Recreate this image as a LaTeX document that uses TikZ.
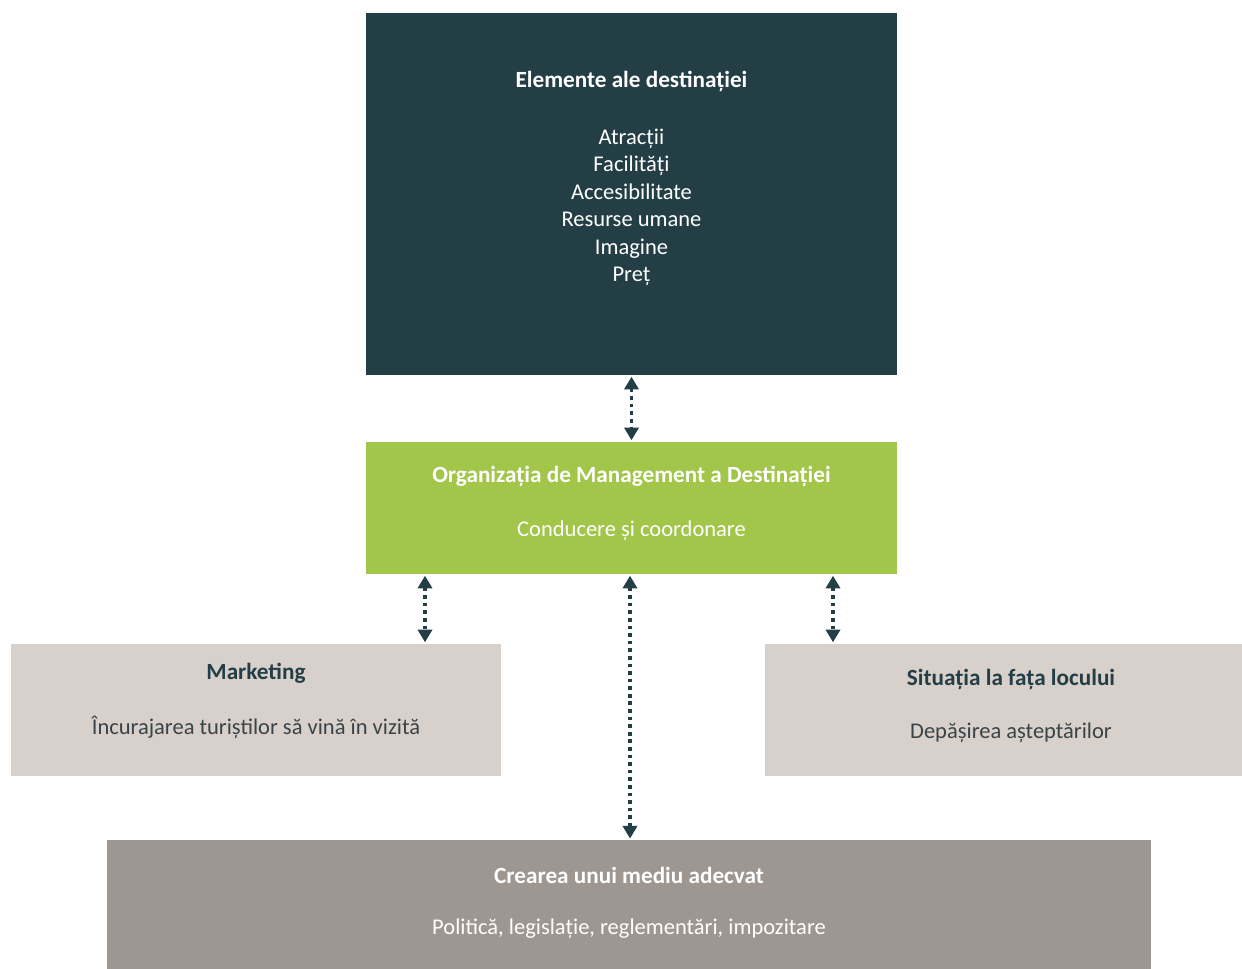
\documentclass[tikz,border=0pt]{standalone}
\usepackage{fontspec}
\setmainfont{Carlito}
\usetikzlibrary{positioning,arrows.meta,calc}

\definecolor{darkteal}{HTML}{233F45}
\definecolor{leafgreen}{HTML}{A1C64A}
\definecolor{lightstone}{HTML}{D7D0CB}
\definecolor{darkstone}{HTML}{9E9690}
\definecolor{softgray}{HTML}{3A4448}

\tikzset{
  box/.style={draw=none, rectangle, inner sep=0pt},
  title/.style={font=\fontsize{16.5}{19}\selectfont\bfseries},
  body/.style={font=\fontsize{16}{19.5}\selectfont, align=center},
  link/.style={darkteal, line width=2.6pt, dash pattern=on 2.6pt off 2.8pt,
    {Triangle[length=9pt,width=10pt]}-{Triangle[length=9pt,width=10pt]}, shorten <=1pt, shorten >=1pt}
}

\begin{document}
\begin{tikzpicture}[x=0.025cm, y=-0.025cm]
    \useasboundingbox (0,0) rectangle (1242,968);

    % Casete
    \node[box, fill=darkteal, minimum width=13.275cm, minimum height=9.05cm] (elem) at (631.5,194) {};
    \node[box, fill=leafgreen, minimum width=13.275cm, minimum height=3.3cm] (dmo) at (631.5,508) {};
    \node[box, fill=lightstone, minimum width=12.25cm, minimum height=3.3cm] (mkt) at (256,710) {};
    \node[box, fill=lightstone, minimum width=11.925cm, minimum height=3.3cm] (loc) at (1003.5,710) {};
    \node[box, fill=darkstone, minimum width=26.1cm, minimum height=3.25cm, anchor=north] (env) at (629,840) {};

    % Texte
    \node[title, white] (elemT) at (631.5,81) {Elemente ale destinației};
    \node[body, white, anchor=north] (elemL) at (631.5,124)
      {Atracții\\Facilități\\Accesibilitate\\Resurse umane\\Imagine\\Preț};

    \node[title, white] (dmoT) at (631.5,476) {Organizația de Management a Destinației};
    \node[body, white] (dmoB) at (631.5,531) {Conducere și coordonare};

    \node[title, darkteal] (mktT) at (256,673) {Marketing};
    \node[body, softgray] (mktB) at (256,727) {Încurajarea turiștilor să vină în vizită};

    \node[title, darkteal] (locT) at (1011,679) {Situația la fața locului};
    \node[body, softgray] (locB) at (1011,733) {Depășirea așteptărilor};

    \node[title, white] (envT) at (629,875) {Crearea unui mediu adecvat};
    \node[body, white] (envB) at (629,929) {Politică, legislație, reglementări, impozitare};

    % Legaturi
    \coordinate (colL) at (425,0);
    \coordinate (colR) at (833,0);
    \coordinate (colM) at (630,0);
    \draw[link] (elem.south) -- (dmo.north);
    \draw[link] (dmo.south -| colL) -- (mkt.north -| colL);
    \draw[link] (dmo.south -| colR) -- (loc.north -| colR);
    \draw[link] (dmo.south -| colM) -- (env.north -| colM);
\end{tikzpicture}
\end{document}
